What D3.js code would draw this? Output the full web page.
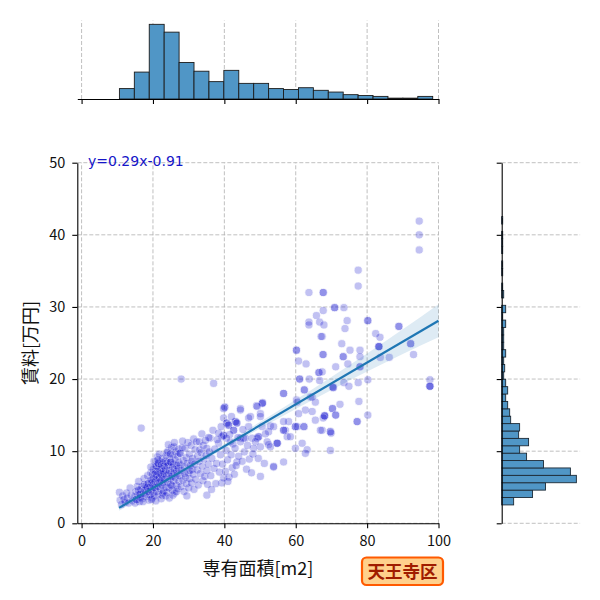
<!DOCTYPE html>
<html>
<head>
<meta charset="utf-8">
<script src="https://cdn.jsdelivr.net/npm/d3@7"></script>
<style>
  body { margin: 0; background: #fff; }
  svg { font-family: "Noto Sans CJK JP", "Noto Sans", sans-serif; }
</style>
</head>
<body>
<script>
// ---- data ----
const xTicks = [0, 20, 40, 60, 80, 100];
const yTicks = [0, 10, 20, 30, 40, 50];

// marginal histogram of 専有面積 (21 bins)
const areaBinStart = 10.6;
const areaBinWidth = 4.18;
const areaCounts = [12, 31, 86, 77, 42, 32, 20, 33, 18, 18, 12, 11, 13, 10, 8, 5, 4, 3, 1, 1, 3];

// marginal histogram of 賃料 (39 bins)
const rentBinStart = 2.55;
const rentBinWidth = 1.025;
const rentCounts = [12, 31, 44, 75, 69, 42, 25, 18, 27, 17, 18, 9, 8, 6, 4, 6, 4, 2, 3, 2,
                    4, 2, 2, 2, 4, 1, 4, 0, 2, 1, 0, 1, 1, 0, 1, 1, 1, 0, 1];

// regression fit and its confidence band half width
const fitSlope = 0.29;
const fitIntercept = -0.91;
const fitRange = [10.5, 100];
const ciX = [10.5, 20, 30, 40, 50, 60, 70, 80, 90, 100];
const ciHalf = [0.4, 0.28, 0.25, 0.32, 0.45, 0.65, 0.9, 1.25, 1.7, 2.3];

const fitLabel = 'y=0.29x-0.91';
const wardName = '天王寺区';

// listings [面積 m2, 賃料 万円]
const listings = [
  // sparse / upper part
  [94.6,41.9],[94.6,40.0],[94.6,37.9],[77.5,35.1],[77.5,32.9],
  [63.7,32.0],[67.7,32.0],[67.7,32.0],[70.9,29.9],[70.9,29.9],[73.5,29.9],[67.7,29.5],
  [65.8,28.8],[74.4,28.1],[80.2,28.1],[80.2,28.1],[63.7,27.9],[66.7,27.9],[63.7,27.5],
  [67.9,27.5],[88.9,27.3],[88.9,27.3],[73.8,27.0],[82.4,26.3],[67.4,25.9],[67.1,25.9],
  [83.6,25.8],[72.9,24.9],[92.2,24.9],[92.2,24.9],[83.3,24.5],[83.3,24.5],[83.3,24.5],
  [60.2,24.0],[60.2,24.0],[75.2,24.0],[78.0,24.0],[67.6,23.4],[93.0,23.4],[67.7,23.4],
  [86.2,23.0],[83.7,23.0],[78.0,23.1],[73.3,23.1],[73.3,23.1],[60.8,22.5],[62.9,22.1],
  [74.6,22.1],[78.0,21.7],[78.0,21.7],[71.2,21.7],[66.5,20.9],[66.5,20.9],[67.4,21.0],
  [61.1,20.0],[61.1,20.0],[63.8,20.0],[80.2,19.9],[97.6,19.9],[66.7,19.8],[77.5,19.5],
  [73.5,19.5],[27.9,20.0],[37.0,19.4],[74.9,19.0],[97.6,19.0],[97.6,19.0],[97.6,19.0],
  [70.5,18.8],[70.5,18.8],[70.4,18.9],[62.4,18.5],[62.4,18.5],[56.6,18.0],[56.6,18.0],
  [64.1,17.5],[64.6,17.5],[60.2,17.1],[77.7,16.9],[65.5,16.8],[60.4,16.8],[50.7,16.7],
  [50.7,16.7],[50.6,16.6],[72.4,16.5],[49.0,16.3],[49.2,16.2],[40.1,16.1],[40.1,16.1],
  [44.5,15.9],[39.8,15.9],[70.3,15.9],[70.3,15.9],[44.5,15.7],[62.7,15.7],[64.6,15.5],
  [60.8,15.2],[50.1,15.2],[68.1,14.9],[68.1,14.9],[68.1,14.9],[71.2,15.0],[71.2,15.0],
  [80.2,15.0],[47.3,14.8],[50.1,14.8],[46.8,14.6],[39.8,14.6],[67.7,14.6],[65.5,14.3],
  [77.2,14.1],[77.2,14.1],[58.0,14.1],[56.6,14.1],[43.1,14.1],[43.1,14.1],[40.7,13.9],
  [40.7,13.9],[43.5,13.9],[43.5,13.9],[41.2,13.6],[41.2,13.6],[52.9,13.5],[53.8,13.4],
  [59.9,13.4],[59.9,13.4],[60.4,13.4],[62.3,13.4],[62.3,13.4],[46.8,13.4],[50.6,13.4],
  [16.7,13.2],[67.4,12.9],[57.1,12.9],[56.6,12.9],[56.6,12.9],[42.6,12.9],[42.6,12.9],
  [66.9,12.9],[69.7,12.7],[69.7,12.7],[52.4,12.7],[69.9,12.5],[39.8,12.2],[39.8,12.2],
  [49.6,12.0],[49.6,12.0],[57.6,12.0],[58.5,12.0],[39.3,12.0],[47.8,11.8],[49.2,11.8],
  [44.5,11.8],[45.9,11.8],[45.4,11.8],[36.0,11.8],[48.7,11.3],[52.0,11.3],[44.5,11.3],
  [41.7,11.3],[54.8,11.1],[54.8,11.1],[54.8,11.1],[61.8,11.1],[38.4,11.1],[52.4,10.9],
  [50.1,10.6],[52.9,10.6],[48.2,10.4],[59.9,10.4],[63.2,10.2],[69.7,10.1],[62.7,9.7],
  [56.6,8.5],[43.5,8.5],[53.8,7.9],[53.8,7.8],[50.1,6.5],[39.8,6.3],[39.3,5.6],[35.1,3.9],
  // 10 - 15 m2
  [10.6,4.3],[10.8,3.2],[11.2,2.6],[11.5,3.8],[11.9,3.3],[12.2,2.9],[12.6,4.2],[12.8,3.5],
  [13.2,2.8],[13.6,4.9],[13.9,3.9],[14.3,3.1],
  // 15 - 19 m2
  [14.9,3.7],[15.0,2.8],[15.2,4.4],[15.4,3.3],[15.4,3.3],[15.6,5.1],[15.8,3.9],[16.0,5.8],
  [16.2,3.0],[16.4,4.0],[16.4,4.0],[16.6,4.7],[16.9,5.1],[17.0,3.4],[17.3,4.2],[17.5,6.2],
  [17.8,4.6],[17.8,4.6],[18.0,3.7],[18.1,5.2],[18.3,4.0],[18.5,6.6],[18.7,5.5],[18.7,5.5],
  [18.8,4.4],[18.9,3.2],[16.5,3.6],[17.6,5.4],[15.9,4.6],[18.4,5.0],[17.2,3.0],
  // 19 - 23 m2
  [19.1,4.0],[19.2,5.0],[19.3,6.0],[19.4,7.0],[19.5,4.6],[19.6,5.6],[19.7,6.0],[19.8,3.5],
  [19.9,6.8],[20.0,5.3],[20.0,4.2],[20.1,7.5],[20.2,6.2],[20.3,5.0],[20.4,3.8],[20.5,6.8],
  [20.6,4.9],[20.6,5.8],[20.7,7.2],[20.8,8.0],[20.9,6.4],[21.0,4.4],[21.1,6.7],[21.1,7.9],
  [21.1,7.9],[21.1,7.2],[21.2,9.2],[21.3,5.5],[21.4,6.1],[21.5,5.1],[21.5,8.3],[21.5,8.3],
  [21.6,4.0],[21.7,7.0],[21.8,6.3],[21.9,5.7],[22.0,8.6],[22.0,7.5],[22.1,4.8],[22.2,6.9],
  [22.3,5.9],[22.4,8.1],[22.5,6.7],[22.5,7.6],[22.6,3.9],[22.6,5.3],[22.7,9.0],[22.8,6.2],
  [22.9,7.2],[22.9,8.4],[23.0,4.5],[23.0,5.6],[23.1,6.9],[23.1,7.9],[19.6,3.3],[20.3,8.6],
  [21.8,9.6],[22.3,3.4],[20.8,3.1],[19.4,7.8],[21.4,8.8],[22.8,4.2],
  // 23 - 27 m2
  [23.3,6.1],[23.4,8.6],[23.5,7.4],[23.6,5.0],[23.7,9.4],[23.8,6.6],[23.9,4.3],[24.0,7.9],
  [24.0,8.4],[24.1,5.7],[24.2,10.0],[24.3,6.9],[24.4,8.1],[24.5,4.9],[24.6,7.3],[24.7,9.0],
  [24.8,6.2],[24.9,5.4],[25.0,8.5],[25.0,8.5],[25.1,7.0],[25.2,10.5],[25.3,6.5],[25.4,4.6],
  [25.5,7.8],[25.6,9.5],[25.7,5.9],[25.8,8.2],[25.9,10.6],[25.9,6.9],[26.0,7.5],[26.1,4.2],
  [26.2,8.8],[26.3,6.3],[26.4,9.9],[26.5,5.3],[26.6,7.2],[26.7,8.0],[26.8,6.7],[26.9,9.3],
  [27.0,4.8],[27.1,7.6],[27.2,8.4],[27.3,5.8],[23.6,3.8],[24.6,3.5],[25.6,3.9],[26.6,4.4],
  [27.2,10.3],[24.3,10.9],[23.9,9.8],[26.0,11.2],[25.3,5.2],[24.9,9.6],
  // 27 - 32 m2
  [27.5,6.6],[27.6,9.7],[27.6,9.7],[27.7,8.1],[27.9,5.1],[28.0,7.3],[28.2,10.5],[28.4,6.0],
  [28.5,8.7],[28.7,4.4],[28.8,7.8],[29.0,10.4],[29.1,6.4],[29.3,9.1],[29.4,5.5],[29.6,8.3],
  [29.8,11.2],[29.9,7.0],[30.0,4.9],[30.2,9.6],[30.3,6.2],[30.5,8.0],[30.7,10.8],[30.8,5.6],
  [31.0,7.5],[31.1,9.0],[31.3,6.8],[31.4,11.7],[31.5,4.7],[28.3,11.4],[29.5,3.8],[30.9,8.6],
  [28.9,6.9],[30.4,7.3],
  // 32 - 36 m2
  [31.7,8.2],[31.8,10.2],[32.0,6.1],[32.2,11.3],[32.4,7.4],[32.5,9.3],[32.7,5.3],[32.9,8.6],
  [33.0,11.3],[33.1,10.2],[33.3,6.9],[33.5,9.8],[33.7,12.4],[33.8,7.9],[34.0,5.9],[34.1,10.8],
  [34.3,8.9],[34.5,6.5],[34.7,11.5],[34.9,9.4],[35.1,10.4],[35.1,7.3],[35.3,5.4],[35.5,8.2],
  [35.6,11.9],[35.8,9.9],
  // 36 - 52 m2
  [36.2,6.6],[36.5,9.0],[36.8,12.9],[37.1,7.6],[37.3,10.3],[37.6,5.5],[37.8,8.3],[38.0,11.6],
  [38.4,12.5],[38.6,7.1],[38.9,9.5],[39.1,13.4],[39.5,8.2],[36.4,4.7],
  [40.3,7.2],[40.5,10.1],[40.9,8.8],[41.3,6.4],[41.5,12.3],[41.9,9.5],[42.2,7.7],[42.4,11.0],
  [42.8,6.8],[43.0,10.4],[43.3,8.0],[43.8,11.9],[44.0,9.3],[40.6,11.8],[42.0,14.8],[41.0,5.8],
  [45.0,8.6],[45.6,9.9],[46.2,7.5],[46.5,10.8],[47.0,8.9],[47.6,7.0],[48.0,9.6],[45.2,13.0],
  [49.5,9.0],[51.2,8.3],[51.5,12.4]
];

// ---- drawing ----
const width = 600;
const height = 600;

const svg = d3.select('body').append('svg')
    .attr('width', width)
    .attr('height', height);

const xScale = d3.scaleLinear().domain([-1.2, 100]).range([77.3, 438.5]);
const yScale = d3.scaleLinear().domain([0, 50]).range([523.3, 162.7]);
const topY = d3.scaleLinear().domain([0, d3.max(areaCounts) * 1.05]).range([99, 20.6]);
const sideX = d3.scaleLinear().domain([0, d3.max(rentCounts) * 1.05]).range([501.7, 580.1]);

const gridColor = '#b0b0b0';
const dash = '4,2';

// grids of the joint axes
const grid = svg.append('g')
    .attr('stroke', gridColor)
    .attr('stroke-width', 0.8)
    .attr('stroke-dasharray', dash);

grid.selectAll('.vx').data(xTicks).enter().append('line')
    .attr('x1', d => xScale(d)).attr('x2', d => xScale(d))
    .attr('y1', yScale(0)).attr('y2', yScale(50));
grid.selectAll('.hy').data(yTicks).enter().append('line')
    .attr('x1', xScale.range()[0]).attr('x2', xScale.range()[1])
    .attr('y1', d => yScale(d)).attr('y2', d => yScale(d));

// grids of the marginal axes
grid.selectAll('.tx').data(xTicks).enter().append('line')
    .attr('x1', d => xScale(d)).attr('x2', d => xScale(d))
    .attr('y1', topY.range()[0]).attr('y2', topY.range()[1]);
grid.selectAll('.sy').data(yTicks).enter().append('line')
    .attr('x1', sideX.range()[0]).attr('x2', sideX.range()[1])
    .attr('y1', d => yScale(d)).attr('y2', d => yScale(d));

// scatter
svg.append('g')
    .selectAll('circle')
    .data(listings)
    .enter().append('circle')
    .attr('cx', d => xScale(d[0]))
    .attr('cy', d => yScale(d[1]))
    .attr('r', 4.1)
    .attr('fill', '#0000cd')
    .attr('stroke', '#fff')
    .attr('stroke-width', 0.8)
    .style('opacity', 0.24);

// confidence band + regression line
const fit = v => fitSlope * v + fitIntercept;
const ciData = ciX.map((v, i) => ({ x: v, h: ciHalf[i] }));

svg.append('path')
    .datum(ciData)
    .attr('fill', '#1f77b4')
    .attr('fill-opacity', 0.15)
    .attr('d', d3.area()
        .curve(d3.curveMonotoneX)
        .x(d => xScale(d.x))
        .y0(d => yScale(fit(d.x) - d.h))
        .y1(d => yScale(fit(d.x) + d.h)));

svg.append('path')
    .datum(fitRange)
    .attr('fill', 'none')
    .attr('stroke', '#1f77b4')
    .attr('stroke-width', 2.2)
    .attr('d', d3.line().x(d => xScale(d)).y(d => yScale(fit(d))));

// top histogram
svg.append('g')
    .selectAll('rect')
    .data(areaCounts.map((c, i) => ({ c, x0: areaBinStart + i * areaBinWidth })).filter(d => d.c > 0))
    .enter().append('rect')
    .attr('x', d => xScale(d.x0))
    .attr('width', d => xScale(d.x0 + areaBinWidth) - xScale(d.x0))
    .attr('y', d => topY(d.c))
    .attr('height', d => topY(0) - topY(d.c))
    .attr('fill', '#5096c6')
    .attr('stroke', '#1c1c1c')
    .attr('stroke-width', 0.9);

// side histogram
svg.append('g')
    .selectAll('rect')
    .data(rentCounts.map((c, i) => ({ c, y0: rentBinStart + i * rentBinWidth })).filter(d => d.c > 0))
    .enter().append('rect')
    .attr('x', sideX(0))
    .attr('width', d => sideX(d.c) - sideX(0))
    .attr('y', d => yScale(d.y0 + rentBinWidth))
    .attr('height', d => yScale(d.y0) - yScale(d.y0 + rentBinWidth))
    .attr('fill', '#5096c6')
    .attr('stroke', '#1c2a36')
    .attr('stroke-width', 0.9);

// axes
function styleAxis(g) {
    g.attr('font-family', '"Noto Sans CJK JP", "Noto Sans", sans-serif')
     .attr('font-size', '14.5px');
    g.select('.domain').attr('stroke', '#000').attr('stroke-width', 1.1);
    g.selectAll('.tick line').attr('stroke', '#000').attr('stroke-width', 1.1);
    g.selectAll('.tick text').attr('fill', '#111');
}

svg.append('g')
    .attr('transform', `translate(0,${yScale(0)})`)
    .call(d3.axisBottom(xScale).tickValues(xTicks).tickSize(5).tickSizeOuter(0).tickPadding(7))
    .call(styleAxis);

svg.append('g')
    .attr('transform', `translate(${xScale(-1.2)},0)`)
    .call(d3.axisLeft(yScale).tickValues(yTicks).tickSize(5).tickSizeOuter(0).tickPadding(7))
    .call(styleAxis);

svg.append('g')
    .attr('transform', `translate(0,${topY(0)})`)
    .call(d3.axisBottom(xScale).tickValues(xTicks).tickSize(5).tickSizeOuter(0).tickFormat(''))
    .call(styleAxis);

svg.append('g')
    .attr('transform', `translate(${sideX(0)},0)`)
    .call(d3.axisLeft(yScale).tickValues(yTicks).tickSize(5).tickSizeOuter(0).tickFormat(''))
    .call(styleAxis);

// axis titles
svg.append('text')
    .attr('x', (xScale.range()[0] + xScale.range()[1]) / 2)
    .attr('y', 575)
    .attr('text-anchor', 'middle')
    .attr('font-size', '18px')
    .attr('fill', '#111')
    .text('専有面積[m2]');

svg.append('text')
    .attr('transform', `translate(37,${(yScale(0) + yScale(50)) / 2}) rotate(-90)`)
    .attr('text-anchor', 'middle')
    .attr('font-size', '18px')
    .attr('fill', '#111')
    .text('賃料[万円]');

// fit equation
svg.append('text')
    .attr('x', 88)
    .attr('y', 166)
    .attr('font-family', '"DejaVu Sans", sans-serif')
    .attr('font-size', '14px')
    .attr('fill', '#1515c8')
    .text(fitLabel);

// ward label box
const label = svg.append('g');
label.append('rect')
    .attr('x', 362)
    .attr('y', 557.5)
    .attr('width', 81)
    .attr('height', 27.5)
    .attr('rx', 4.5)
    .attr('fill', '#ffd08c')
    .attr('stroke', '#ff5a00')
    .attr('stroke-width', 2.2);
label.append('text')
    .attr('x', 402.5)
    .attr('y', 577.5)
    .attr('text-anchor', 'middle')
    .attr('font-size', '17.5px')
    .attr('font-weight', 'bold')
    .attr('fill', '#a01c00')
    .text(wardName);
</script>
</body>
</html>
